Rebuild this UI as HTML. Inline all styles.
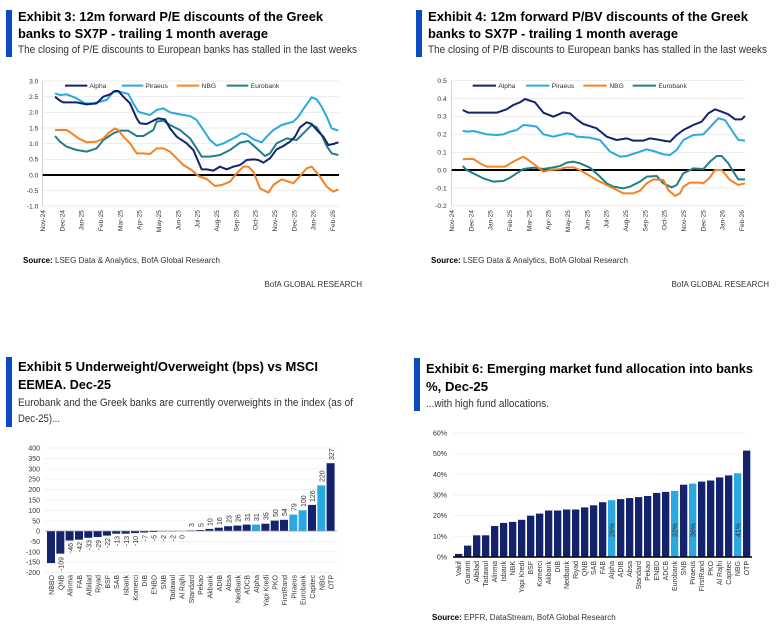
<!DOCTYPE html>
<html><head><meta charset="utf-8"><style>
body{margin:0;background:#fff;}
svg{display:block;font-family:"Liberation Sans",sans-serif;}
.t{font-weight:bold;font-size:13px;fill:#000;}
.s{font-size:11px;fill:#333;}
.src{font-size:8px;fill:#333;}
.ax{font-size:20px;fill:#333;}
.a7{font-size:7px;fill:#333;}
</style></head><body>
<svg width="778" height="626" viewBox="0 0 778 626">
<!-- Headers -->
<rect x="6" y="10" width="6" height="47" fill="#0b4bbf"/>
<text class="t" x="18" y="21" textLength="305" lengthAdjust="spacingAndGlyphs">Exhibit 3: 12m forward P/E discounts of the Greek</text>
<text class="t" x="18" y="38" textLength="250" lengthAdjust="spacingAndGlyphs">banks to SX7P - trailing 1 month average</text>
<text class="s" x="18" y="53" textLength="339" lengthAdjust="spacingAndGlyphs">The closing of P/E discounts to European banks has stalled in the last weeks</text>

<rect x="416" y="10" width="6" height="47" fill="#0b4bbf"/>
<text class="t" x="428" y="21" textLength="320" lengthAdjust="spacingAndGlyphs">Exhibit 4: 12m forward P/BV discounts of the Greek</text>
<text class="t" x="428" y="38" textLength="250" lengthAdjust="spacingAndGlyphs">banks to SX7P - trailing 1 month average</text>
<text class="s" x="428" y="53" textLength="339" lengthAdjust="spacingAndGlyphs">The closing of P/B discounts to European banks has stalled in the last weeks</text>

<text class="src" x="23" y="263"><tspan font-weight="bold" fill="#000">Source:</tspan> LSEG Data &amp; Analytics, BofA Global Research</text>
<text class="src" x="431" y="263"><tspan font-weight="bold" fill="#000">Source:</tspan> LSEG Data &amp; Analytics, BofA Global Research</text>
<text class="src" x="362" y="287" text-anchor="end">BofA GLOBAL RESEARCH</text>
<text class="src" x="769" y="287" text-anchor="end">BofA GLOBAL RESEARCH</text>

<rect x="6" y="357" width="6" height="70" fill="#0b4bbf"/>
<text class="t" x="18" y="371" textLength="300" lengthAdjust="spacingAndGlyphs">Exhibit 5 Underweight/Overweight (bps) vs MSCI</text>
<text class="t" x="18" y="389" textLength="93" lengthAdjust="spacingAndGlyphs">EEMEA. Dec-25</text>
<text class="s" x="18" y="406" textLength="335" lengthAdjust="spacingAndGlyphs">Eurobank and the Greek banks are currently overweights in the index (as of</text>
<text class="s" x="18" y="422" textLength="42" lengthAdjust="spacingAndGlyphs">Dec-25)...</text>

<rect x="414" y="358" width="6" height="53" fill="#0b4bbf"/>
<text class="t" x="426" y="373" textLength="327" lengthAdjust="spacingAndGlyphs">Exhibit 6: Emerging market fund allocation into banks</text>
<text class="t" x="426" y="391" textLength="62" lengthAdjust="spacingAndGlyphs">%, Dec-25</text>
<text class="s" x="426" y="407" textLength="123" lengthAdjust="spacingAndGlyphs">...with high fund allocations.</text>
<text class="src" x="432" y="620"><tspan font-weight="bold" fill="#000">Source:</tspan> EPFR, DataStream, BofA Global Research</text>

<!-- Chart 1 -->
<g transform="translate(0,70) scale(0.33333)">
<g stroke="#e4e4e4" stroke-width="2">
<line x1="128" x2="1017" y1="33" y2="33"/><line x1="128" x2="1017" y1="80" y2="80"/><line x1="128" x2="1017" y1="127" y2="127"/><line x1="128" x2="1017" y1="174" y2="174"/><line x1="128" x2="1017" y1="221" y2="221"/><line x1="128" x2="1017" y1="268" y2="268"/><line x1="128" x2="1017" y1="362" y2="362"/><line x1="128" x2="1017" y1="408" y2="408"/>
</g>
<line x1="128" x2="128" y1="33" y2="408" stroke="#bbb" stroke-width="2"/>
<line x1="128" x2="1017" y1="315" y2="315" stroke="#000" stroke-width="6"/>
<g class="ax" text-anchor="end">
<text x="115" y="40">3.0</text><text x="115" y="87">2.5</text><text x="115" y="134">2.0</text><text x="115" y="181">1.5</text><text x="115" y="228">1.0</text><text x="115" y="275">0.5</text><text x="115" y="322">0.0</text><text x="115" y="369">-0.5</text><text x="115" y="415">-1.0</text>
</g>
<g class="ax" text-anchor="end">
<text transform="translate(135,420) rotate(-90)">Nov-24</text><text transform="translate(193,420) rotate(-90)">Dec-24</text><text transform="translate(251,420) rotate(-90)">Jan-25</text><text transform="translate(309,420) rotate(-90)">Feb-25</text><text transform="translate(367,420) rotate(-90)">Mar-25</text><text transform="translate(425,420) rotate(-90)">Apr-25</text><text transform="translate(483,420) rotate(-90)">May-25</text><text transform="translate(541,420) rotate(-90)">Jun-25</text><text transform="translate(599,420) rotate(-90)">Jul-25</text><text transform="translate(657,420) rotate(-90)">Aug-25</text><text transform="translate(715,420) rotate(-90)">Sep-25</text><text transform="translate(773,420) rotate(-90)">Oct-25</text><text transform="translate(831,420) rotate(-90)">Nov-25</text><text transform="translate(889,420) rotate(-90)">Dec-25</text><text transform="translate(947,420) rotate(-90)">Jan-26</text><text transform="translate(1005,420) rotate(-90)">Feb-26</text>
</g>
<g fill="none" stroke-width="6" stroke-linejoin="round">
<polyline stroke="#1f7f86" points="165,198 180,215 200,230 230,240 260,245 290,235 310,210 340,190 360,182 385,182 410,198 430,198 460,180 470,155 490,152 510,165 540,180 570,205 590,235 605,260 630,260 660,255 690,240 720,218 745,213 770,235 795,258 810,250 830,220 860,205 890,210 915,185 935,165 950,172 965,195 980,228 995,250 1015,255"/>
<polyline stroke="#f58220" points="165,180 200,180 215,190 235,205 260,217 290,215 310,205 330,185 345,175 355,180 370,200 390,220 410,250 430,250 450,252 470,235 490,235 510,245 530,265 550,285 575,300 595,318 620,327 645,348 665,345 690,335 710,310 730,290 745,290 760,305 780,355 805,368 820,345 845,328 880,340 900,318 920,295 935,290 960,320 980,350 1000,365 1015,358"/>
<polyline stroke="#2aa8e2" points="165,70 180,75 200,73 230,85 255,100 280,100 300,95 320,90 340,65 360,65 385,72 400,100 415,125 430,130 450,135 470,120 490,115 510,127 540,133 570,138 590,150 610,180 630,210 650,227 670,220 690,210 710,200 725,190 740,193 760,208 785,217 800,200 820,180 845,165 880,155 895,140 915,110 935,82 950,88 965,110 980,140 995,175 1015,182"/>
<polyline stroke="#14236b" points="165,80 180,92 190,97 230,97 260,103 290,100 310,80 330,73 345,63 355,63 370,80 390,100 410,145 420,160 440,162 460,152 475,145 495,148 510,175 530,200 560,220 580,240 595,275 605,298 620,298 640,302 660,290 680,298 700,290 720,285 740,270 760,268 775,270 790,278 810,265 830,238 850,228 870,215 885,200 900,172 920,157 935,162 955,185 970,200 985,225 1000,222 1015,217"/>
</g>
<g class="ax">
<line x1="195" x2="262" y1="47" y2="47" stroke="#14236b" stroke-width="6"/><text x="268" y="54">Alpha</text>
<line x1="365" x2="430" y1="47" y2="47" stroke="#2aa8e2" stroke-width="6"/><text x="436" y="54">Piraeus</text>
<line x1="530" x2="598" y1="47" y2="47" stroke="#f58220" stroke-width="6"/><text x="605" y="54">NBG</text>
<line x1="680" x2="745" y1="47" y2="47" stroke="#1f7f86" stroke-width="6"/><text x="752" y="54">Eurobank</text>
</g>
</g>

<!-- Chart 2 -->
<g transform="translate(410,70) scale(0.33333)">
<g stroke="#e4e4e4" stroke-width="2">
<line x1="125" x2="1005" y1="32" y2="32"/><line x1="125" x2="1005" y1="86" y2="86"/><line x1="125" x2="1005" y1="139" y2="139"/><line x1="125" x2="1005" y1="193" y2="193"/><line x1="125" x2="1005" y1="247" y2="247"/><line x1="125" x2="1005" y1="354" y2="354"/><line x1="125" x2="1005" y1="407" y2="407"/>
</g>
<line x1="125" x2="125" y1="32" y2="407" stroke="#bbb" stroke-width="2"/>
<line x1="125" x2="1005" y1="300" y2="300" stroke="#000" stroke-width="6"/>
<g class="ax" text-anchor="end">
<text x="110" y="39">0.5</text><text x="110" y="93">0.4</text><text x="110" y="146">0.3</text><text x="110" y="200">0.2</text><text x="110" y="254">0.1</text><text x="110" y="307">0.0</text><text x="110" y="361">-0.1</text><text x="110" y="414">-0.2</text>
</g>
<g class="ax" text-anchor="end">
<text transform="translate(132,420) rotate(-90)">Nov-24</text><text transform="translate(190,420) rotate(-90)">Dec-24</text><text transform="translate(248,420) rotate(-90)">Jan-25</text><text transform="translate(306,420) rotate(-90)">Feb-25</text><text transform="translate(364,420) rotate(-90)">Mar-25</text><text transform="translate(422,420) rotate(-90)">Apr-25</text><text transform="translate(480,420) rotate(-90)">May-25</text><text transform="translate(538,420) rotate(-90)">Jun-25</text><text transform="translate(596,420) rotate(-90)">Jul-25</text><text transform="translate(654,420) rotate(-90)">Aug-25</text><text transform="translate(712,420) rotate(-90)">Sep-25</text><text transform="translate(770,420) rotate(-90)">Oct-25</text><text transform="translate(828,420) rotate(-90)">Nov-25</text><text transform="translate(886,420) rotate(-90)">Dec-25</text><text transform="translate(944,420) rotate(-90)">Jan-26</text><text transform="translate(1002,420) rotate(-90)">Feb-26</text>
</g>
<g fill="none" stroke-width="6" stroke-linejoin="round">
<polyline stroke="#1f7f86" points="158,288 170,300 190,310 220,325 250,335 280,333 300,323 320,310 340,297 370,293 400,297 430,292 450,288 470,278 490,275 510,280 540,293 570,320 590,340 610,350 640,355 660,350 690,335 710,320 740,318 760,340 785,352 800,345 820,310 850,295 880,297 900,275 920,258 935,258 955,280 970,305 985,328 1005,328"/>
<polyline stroke="#f58220" points="158,268 170,267 190,267 210,280 230,290 260,290 285,290 310,275 340,260 355,270 375,285 400,305 420,300 450,297 470,292 490,292 510,300 530,312 560,330 590,345 620,360 640,370 670,370 690,362 710,340 730,328 760,330 775,360 795,378 810,370 820,350 840,338 870,338 880,340 900,322 915,300 935,300 960,330 985,345 1005,340"/>
<polyline stroke="#2aa8e2" points="158,183 175,185 190,183 230,193 260,195 280,193 300,185 320,180 340,165 360,167 380,170 400,193 430,200 470,190 490,193 500,200 540,203 570,210 600,245 630,260 650,258 690,245 710,238 730,243 760,253 780,255 800,240 820,210 850,195 880,193 900,172 925,145 945,150 965,180 985,210 1005,212"/>
<polyline stroke="#14236b" points="158,120 175,128 230,128 260,128 290,118 310,105 330,97 345,87 375,97 400,128 430,140 460,127 480,130 500,148 520,162 560,175 590,200 620,210 650,205 670,212 700,212 720,205 740,208 760,212 780,215 800,195 820,180 850,165 875,155 895,130 915,118 935,125 955,133 975,148 995,148 1005,138"/>
</g>
<g class="ax">
<line x1="188" x2="258" y1="47" y2="47" stroke="#14236b" stroke-width="6"/><text x="265" y="54">Alpha</text>
<line x1="348" x2="418" y1="47" y2="47" stroke="#2aa8e2" stroke-width="6"/><text x="425" y="54">Piraeus</text>
<line x1="520" x2="590" y1="47" y2="47" stroke="#f58220" stroke-width="6"/><text x="598" y="54">NBG</text>
<line x1="668" x2="738" y1="47" y2="47" stroke="#1f7f86" stroke-width="6"/><text x="745" y="54">Eurobank</text>
</g>
</g>

<!-- Chart 3 -->
<g stroke="#ececec" stroke-width="0.7">
<line x1="45" x2="337" y1="448" y2="448"/><line x1="45" x2="337" y1="458.4" y2="458.4"/><line x1="45" x2="337" y1="468.8" y2="468.8"/><line x1="45" x2="337" y1="479.2" y2="479.2"/><line x1="45" x2="337" y1="489.6" y2="489.6"/><line x1="45" x2="337" y1="500" y2="500"/><line x1="45" x2="337" y1="510.4" y2="510.4"/><line x1="45" x2="337" y1="520.8" y2="520.8"/><line x1="45" x2="337" y1="541.4" y2="541.4"/><line x1="45" x2="337" y1="551.8" y2="551.8"/><line x1="45" x2="337" y1="562.2" y2="562.2"/><line x1="45" x2="337" y1="572.6" y2="572.6"/>
</g>
<g class="a7" text-anchor="end">
<text x="40" y="450.5">400</text><text x="40" y="460.9">350</text><text x="40" y="471.3">300</text><text x="40" y="481.7">250</text><text x="40" y="492.1">200</text><text x="40" y="502.5">150</text><text x="40" y="512.9">100</text><text x="40" y="523.3">50</text><text x="40" y="533.5">0</text><text x="40" y="543.9">-50</text><text x="40" y="554.3">-100</text><text x="40" y="564.7">-150</text><text x="40" y="575.1">-200</text>
</g>
<g fill="#14236b">
<rect x="47" y="531" width="8" height="32.1"/><rect x="56.3" y="531" width="8" height="22.6"/><rect x="65.6" y="531" width="8" height="9.5"/><rect x="75" y="531" width="8" height="8.7"/><rect x="84.3" y="531" width="8" height="6.8"/><rect x="93.6" y="531" width="8" height="6"/><rect x="102.9" y="531" width="8" height="4.6"/><rect x="112.2" y="531" width="8" height="2.7"/><rect x="121.6" y="531" width="8" height="2.7"/><rect x="130.9" y="531" width="8" height="2.1"/><rect x="140.2" y="531" width="8" height="1.5"/><rect x="149.5" y="531" width="8" height="1"/><rect x="158.8" y="531" width="8" height="0.5"/><rect x="168.2" y="531" width="8" height="0.5"/>
<rect x="186.8" y="530.4" width="8" height="0.6"/><rect x="196.1" y="530" width="8" height="1"/><rect x="205.4" y="528.9" width="8" height="2.1"/><rect x="214.8" y="527.7" width="8" height="3.3"/><rect x="224.1" y="526.2" width="8" height="4.8"/><rect x="233.4" y="525.6" width="8" height="5.4"/><rect x="242.7" y="524.6" width="8" height="6.4"/><rect x="261.4" y="523.7" width="8" height="7.3"/><rect x="270.7" y="520.6" width="8" height="10.4"/><rect x="280" y="519.8" width="8" height="11.2"/><rect x="308" y="504.9" width="8" height="26.1"/><rect x="326.6" y="463.2" width="8" height="67.8"/>
</g>
<g fill="#2aa8e2">
<rect x="252" y="524.6" width="8" height="6.4"/><rect x="289.3" y="514.6" width="8" height="16.4"/><rect x="298.6" y="510.3" width="8" height="20.7"/><rect x="317.3" y="485.4" width="8" height="45.6"/>
</g>
<line x1="45" x2="337" y1="531" y2="531" stroke="#999" stroke-width="0.7"/>
<g class="a7" text-anchor="end">
<text transform="translate(63.5,557) rotate(-90)">-109</text><text transform="translate(72.8,543) rotate(-90)">-46</text><text transform="translate(82.2,542) rotate(-90)">-42</text><text transform="translate(91.5,540) rotate(-90)">-33</text><text transform="translate(100.8,540) rotate(-90)">-29</text><text transform="translate(110.1,538) rotate(-90)">-22</text><text transform="translate(119.4,536) rotate(-90)">-13</text><text transform="translate(128.8,536) rotate(-90)">-13</text><text transform="translate(138.1,536) rotate(-90)">-10</text><text transform="translate(147.4,535) rotate(-90)">-7</text><text transform="translate(156.7,535) rotate(-90)">-5</text><text transform="translate(166,535) rotate(-90)">-2</text><text transform="translate(175.4,535) rotate(-90)">-2</text><text transform="translate(184.7,535) rotate(-90)">0</text>
</g>
<g class="a7">
<text transform="translate(194,527) rotate(-90)">3</text><text transform="translate(203.3,527) rotate(-90)">5</text><text transform="translate(212.6,526) rotate(-90)">10</text><text transform="translate(222,525) rotate(-90)">16</text><text transform="translate(231.3,523) rotate(-90)">23</text><text transform="translate(240.6,522) rotate(-90)">26</text><text transform="translate(249.9,521) rotate(-90)">31</text><text transform="translate(259.2,521) rotate(-90)">31</text><text transform="translate(268.6,520) rotate(-90)">35</text><text transform="translate(277.9,517) rotate(-90)">50</text><text transform="translate(287.2,516) rotate(-90)">54</text><text transform="translate(296.5,511) rotate(-90)">79</text><text transform="translate(305.8,507) rotate(-90)">100</text><text transform="translate(315.2,502) rotate(-90)">126</text><text transform="translate(324.5,482) rotate(-90)">220</text><text transform="translate(333.8,460) rotate(-90)">327</text>
</g>
<g class="a7" text-anchor="end">
<text transform="translate(54,575) rotate(-90)">NBBO</text><text transform="translate(63.3,575) rotate(-90)">QNB</text><text transform="translate(72.6,575) rotate(-90)">Alinma</text><text transform="translate(82,575) rotate(-90)">FAB</text><text transform="translate(91.3,575) rotate(-90)">Albilad</text><text transform="translate(100.6,575) rotate(-90)">Riyad</text><text transform="translate(109.9,575) rotate(-90)">BSF</text><text transform="translate(119.2,575) rotate(-90)">SAB</text><text transform="translate(128.6,575) rotate(-90)">Isbank</text><text transform="translate(137.9,575) rotate(-90)">Komerci</text><text transform="translate(147.2,575) rotate(-90)">DIB</text><text transform="translate(156.5,575) rotate(-90)">ENBD</text><text transform="translate(165.8,575) rotate(-90)">SNB</text><text transform="translate(175.2,575) rotate(-90)">Tadawul</text><text transform="translate(184.5,575) rotate(-90)">Al Rajhi</text><text transform="translate(193.8,575) rotate(-90)">Standard</text><text transform="translate(203.1,575) rotate(-90)">Pekao</text><text transform="translate(212.4,575) rotate(-90)">Akbank</text><text transform="translate(221.8,575) rotate(-90)">ADIB</text><text transform="translate(231.1,575) rotate(-90)">Absa</text><text transform="translate(240.4,575) rotate(-90)">Nedbank</text><text transform="translate(249.7,575) rotate(-90)">ADCB</text><text transform="translate(259,575) rotate(-90)">Alpha</text><text transform="translate(268.4,575) rotate(-90)">Yapi Kredi</text><text transform="translate(277.7,575) rotate(-90)">PKO</text><text transform="translate(287,575) rotate(-90)">FirstRand</text><text transform="translate(296.3,575) rotate(-90)">Piraeus</text><text transform="translate(305.6,575) rotate(-90)">Eurobank</text><text transform="translate(315,575) rotate(-90)">Capitec</text><text transform="translate(324.3,575) rotate(-90)">NBG</text><text transform="translate(333.6,575) rotate(-90)">OTP</text>
</g>

<!-- Chart 4 -->
<g stroke="#ececec" stroke-width="0.7">
<line x1="453" x2="745" y1="433" y2="433"/><line x1="453" x2="745" y1="453.7" y2="453.7"/><line x1="453" x2="745" y1="474.3" y2="474.3"/><line x1="453" x2="745" y1="495" y2="495"/><line x1="453" x2="745" y1="515.7" y2="515.7"/><line x1="453" x2="745" y1="536.3" y2="536.3"/>
</g>
<g class="a7" text-anchor="end">
<text x="447" y="435.5">60%</text><text x="447" y="456.2">50%</text><text x="447" y="476.8">40%</text><text x="447" y="497.5">30%</text><text x="447" y="518.2">20%</text><text x="447" y="538.8">10%</text><text x="447" y="559.5">0%</text>
</g>
<g fill="#14236b">
<rect x="455" y="553.9" width="7.3" height="3.1"/><rect x="464" y="545.6" width="7.3" height="11.4"/><rect x="473" y="535.3" width="7.3" height="21.7"/><rect x="482" y="535.3" width="7.3" height="21.7"/><rect x="491" y="526" width="7.3" height="31"/><rect x="500" y="522.9" width="7.3" height="34.1"/><rect x="509" y="521.9" width="7.3" height="35.1"/><rect x="518" y="519.8" width="7.3" height="37.2"/><rect x="527" y="515.7" width="7.3" height="41.3"/><rect x="536" y="513.6" width="7.3" height="43.4"/><rect x="545" y="510.5" width="7.3" height="46.5"/><rect x="554" y="510.5" width="7.3" height="46.5"/><rect x="563" y="509.5" width="7.3" height="47.5"/><rect x="572" y="509.5" width="7.3" height="47.5"/><rect x="581" y="507.4" width="7.3" height="49.6"/><rect x="590" y="505.3" width="7.3" height="51.7"/><rect x="599" y="502.2" width="7.3" height="54.8"/>
<rect x="617" y="499.1" width="7.3" height="57.9"/><rect x="626" y="498.1" width="7.3" height="58.9"/><rect x="635" y="497.1" width="7.3" height="59.9"/><rect x="644" y="496" width="7.3" height="61"/><rect x="653" y="492.9" width="7.3" height="64.1"/><rect x="662" y="491.9" width="7.3" height="65.1"/><rect x="680" y="484.7" width="7.3" height="72.3"/><rect x="698" y="481.6" width="7.3" height="75.4"/><rect x="707" y="480.5" width="7.3" height="76.5"/><rect x="716" y="477.4" width="7.3" height="79.6"/><rect x="725" y="475.4" width="7.3" height="81.6"/><rect x="743" y="450.6" width="7.3" height="106.4"/>
</g>
<g fill="#2aa8e2">
<rect x="608" y="500.2" width="7.3" height="56.8"/><rect x="671" y="490.9" width="7.3" height="66.1"/><rect x="689" y="483.6" width="7.3" height="73.4"/><rect x="734" y="473.3" width="7.3" height="83.7"/>
</g>
<line x1="453" x2="752" y1="557" y2="557" stroke="#000" stroke-width="1.5"/>
<g class="a7" text-anchor="middle" fill="#14236b">
<text transform="translate(614.5,530) rotate(-90)">28%</text><text transform="translate(677.5,530) rotate(-90)">32%</text><text transform="translate(695.5,530) rotate(-90)">36%</text><text transform="translate(740.5,530) rotate(-90)">41%</text>
</g>
<g class="a7" text-anchor="end">
<text transform="translate(461,561) rotate(-90)">Vakif</text><text transform="translate(470,561) rotate(-90)">Garanti</text><text transform="translate(479,561) rotate(-90)">Albilad</text><text transform="translate(488,561) rotate(-90)">Tadawul</text><text transform="translate(497,561) rotate(-90)">Alinma</text><text transform="translate(506,561) rotate(-90)">Isbank</text><text transform="translate(515,561) rotate(-90)">NBK</text><text transform="translate(524,561) rotate(-90)">Yapi Kredi</text><text transform="translate(533,561) rotate(-90)">BSF</text><text transform="translate(542,561) rotate(-90)">Komerci</text><text transform="translate(551,561) rotate(-90)">Akbank</text><text transform="translate(560,561) rotate(-90)">DIB</text><text transform="translate(569,561) rotate(-90)">Nedbank</text><text transform="translate(578,561) rotate(-90)">Riyad</text><text transform="translate(587,561) rotate(-90)">QNB</text><text transform="translate(596,561) rotate(-90)">SAB</text><text transform="translate(605,561) rotate(-90)">FAB</text><text transform="translate(614,561) rotate(-90)">Alpha</text><text transform="translate(623,561) rotate(-90)">ADIB</text><text transform="translate(632,561) rotate(-90)">Absa</text><text transform="translate(641,561) rotate(-90)">Standard</text><text transform="translate(650,561) rotate(-90)">Pekao</text><text transform="translate(659,561) rotate(-90)">ENBD</text><text transform="translate(668,561) rotate(-90)">ADCB</text><text transform="translate(677,561) rotate(-90)">Eurobank</text><text transform="translate(686,561) rotate(-90)">SNB</text><text transform="translate(695,561) rotate(-90)">Piraeus</text><text transform="translate(704,561) rotate(-90)">FirstRand</text><text transform="translate(713,561) rotate(-90)">PKO</text><text transform="translate(722,561) rotate(-90)">Al Rajhi</text><text transform="translate(731,561) rotate(-90)">Capitec</text><text transform="translate(740,561) rotate(-90)">NBG</text><text transform="translate(749,561) rotate(-90)">OTP</text>
</g>
</svg>
</body></html>
